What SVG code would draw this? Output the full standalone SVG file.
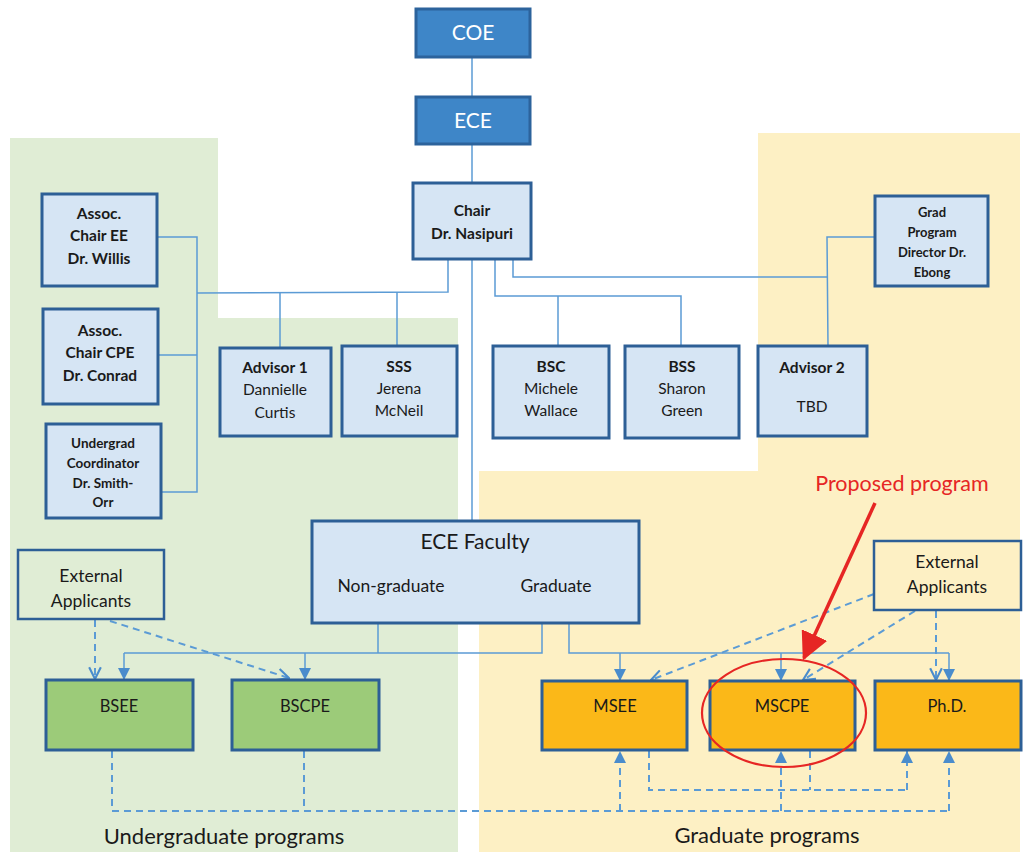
<svg xmlns="http://www.w3.org/2000/svg" width="1026" height="852" viewBox="0 0 1026 852">
<style>
text{font-family:Lato,"Open Sans","Liberation Sans",sans-serif;fill:#1a1a1a;text-anchor:middle}
.b{font-weight:bold}
.hdr{fill:#3e86c8;stroke:#2c639c;stroke-width:3}
.lb{fill:#d6e5f4;stroke:#2d5f96;stroke-width:3}
.gr{fill:#9ccb79;stroke:#2d5f96;stroke-width:3}
.og{fill:#fbb818;stroke:#2d5f96;stroke-width:3}
.ex{fill:none;stroke:#2d5f96;stroke-width:2.5}
.ln{fill:none;stroke:#5b9bd5;stroke-width:1.5}
.ds{fill:none;stroke:#5b9bd5;stroke-width:2;stroke-dasharray:7,5}
</style>
<defs>
<marker id="triB" viewBox="0 0 10 10" refX="10" refY="5" markerWidth="12" markerHeight="12" markerUnits="userSpaceOnUse" orient="auto">
<path d="M0,0 L10,5 L0,10 z" fill="#4a8ccc"/>
</marker>
<marker id="vee" viewBox="0 0 12 12" refX="11" refY="6" markerWidth="14" markerHeight="14" markerUnits="userSpaceOnUse" orient="auto">
<path d="M1,1 L11,6 L1,11" fill="none" stroke="#4a8ccc" stroke-width="1.8"/>
</marker>
<marker id="red" viewBox="0 0 10 10" refX="9" refY="5" markerWidth="28" markerHeight="28" markerUnits="userSpaceOnUse" orient="auto">
<path d="M0,0 L10,5 L0,10 z" fill="#e62624"/>
</marker>
</defs>

<!-- background regions -->
<polygon points="10,138 218,138 218,318 458,318 458,852 10,852" fill="#e0edd5"/>
<polygon points="758,133 1020,133 1020,852 479,852 479,471 758,471" fill="#fdf0c4"/>

<g id="connectors">
<line class="ln" x1="472" y1="57" x2="472" y2="97"/>
<line class="ln" x1="472" y1="144" x2="472" y2="183"/>
<line class="ln" x1="472" y1="259" x2="472" y2="521"/>
<polyline class="ln" points="448,259 448,292 197,293"/>
<polyline class="ln" points="157,237 197,237 197,492 161,492"/>
<line class="ln" x1="158" y1="355" x2="197" y2="355"/>
<line class="ln" x1="280" y1="292" x2="280" y2="348"/>
<line class="ln" x1="397" y1="292" x2="397" y2="346"/>
<polyline class="ln" points="495,259 495,296 681,296 681,346"/>
<line class="ln" x1="558" y1="296" x2="558" y2="346"/>
<polyline class="ln" points="513,259 513,277 828,277"/>
<polyline class="ln" points="875,237 827,237 828,346"/>
<polyline class="ln" points="378,623 378,653"/>
<polyline class="ln" points="542,623 542,653 124,653"/>
<line class="ln" x1="124" y1="653" x2="124" y2="680" marker-end="url(#triB)"/>
<line class="ln" x1="305" y1="653" x2="305" y2="680" marker-end="url(#triB)"/>
<polyline class="ln" points="569,623 569,653 949,653"/>
<line class="ln" x1="620" y1="653" x2="620" y2="681" marker-end="url(#triB)"/>
<line class="ln" x1="781" y1="653" x2="781" y2="681" marker-end="url(#triB)"/>
<line class="ln" x1="949" y1="653" x2="949" y2="681" marker-end="url(#triB)"/>
<!-- external applicants dashed -->
<line class="ds" x1="95" y1="620" x2="95" y2="679" marker-end="url(#vee)"/>
<line class="ds" x1="110" y1="621" x2="289" y2="678" marker-end="url(#vee)"/>
<line class="ds" x1="874" y1="594" x2="651" y2="680" marker-end="url(#vee)"/>
<line class="ds" x1="915" y1="611" x2="803" y2="680" marker-end="url(#vee)"/>
<line class="ds" x1="936" y1="611" x2="936" y2="680" marker-end="url(#vee)"/>
<!-- bottom dashed -->
<polyline class="ds" points="112,751 112,811 949,811"/>
<line class="ds" x1="304" y1="751" x2="304" y2="811"/>
<line class="ds" x1="620" y1="811" x2="620" y2="751" marker-end="url(#triB)"/>
<line class="ds" x1="781" y1="811" x2="781" y2="751" marker-end="url(#triB)"/>
<line class="ds" x1="949" y1="811" x2="949" y2="751" marker-end="url(#triB)"/>
<polyline class="ds" points="649,751 649,790 907,790"/>
<line class="ds" x1="810" y1="751" x2="810" y2="790"/>
<line class="ds" x1="907" y1="790" x2="907" y2="751" marker-end="url(#triB)"/>
</g>

<g id="coe"><rect class="hdr" x="416" y="9" width="114" height="48"/><text x="473" y="40" font-size="21" style="fill:#fff">COE</text></g>
<g id="ece"><rect class="hdr" x="416" y="97" width="114" height="47"/><text x="473" y="128" font-size="21" style="fill:#fff">ECE</text></g>
<g id="chair"><rect class="lb" x="413" y="183" width="118" height="76"/>
<text class="b" x="472" y="216" font-size="15.5">Chair</text><text class="b" x="472" y="239" font-size="15.5">Dr. Nasipuri</text></g>

<g id="assoc-ee"><rect class="lb" x="42" y="194" width="115" height="92"/>
<text class="b" x="99" y="219" font-size="15.5">Assoc.</text><text class="b" x="99" y="241" font-size="15.5">Chair EE</text><text class="b" x="99" y="264" font-size="15.5">Dr. Willis</text></g>
<g id="assoc-cpe"><rect class="lb" x="43" y="309" width="115" height="95"/>
<text class="b" x="100" y="336" font-size="15.5">Assoc.</text><text class="b" x="100" y="358" font-size="15.5">Chair CPE</text><text class="b" x="100" y="381" font-size="15.5">Dr. Conrad</text></g>
<g id="undergrad"><rect class="lb" x="46" y="424" width="115" height="94"/>
<text class="b" x="103" y="448" font-size="13.5">Undergrad</text><text class="b" x="103" y="468" font-size="13.5">Coordinator</text><text class="b" x="103" y="488" font-size="13.5">Dr. Smith-</text><text class="b" x="103" y="507" font-size="13.5">Orr</text></g>

<g id="advisor1"><rect class="lb" x="220" y="348" width="111" height="88"/>
<text class="b" x="275" y="373" font-size="15.5">Advisor 1</text><text x="275" y="395" font-size="15.5">Dannielle</text><text x="275" y="418" font-size="15.5">Curtis</text></g>
<g id="sss"><rect class="lb" x="342" y="346" width="115" height="90"/>
<text class="b" x="399" y="372" font-size="15.5">SSS</text><text x="399" y="394" font-size="15.5">Jerena</text><text x="399" y="416" font-size="15.5">McNeil</text></g>
<g id="bsc"><rect class="lb" x="493" y="346" width="116" height="92"/>
<text class="b" x="551" y="372" font-size="15.5">BSC</text><text x="551" y="394" font-size="15.5">Michele</text><text x="551" y="416" font-size="15.5">Wallace</text></g>
<g id="bss"><rect class="lb" x="625" y="346" width="114" height="92"/>
<text class="b" x="682" y="372" font-size="15.5">BSS</text><text x="682" y="394" font-size="15.5">Sharon</text><text x="682" y="416" font-size="15.5">Green</text></g>
<g id="advisor2"><rect class="lb" x="758" y="346" width="109" height="90"/>
<text class="b" x="812" y="373" font-size="15.5">Advisor 2</text><text x="812" y="412" font-size="15.5">TBD</text></g>
<g id="grad-director"><rect class="lb" x="875" y="196" width="113" height="90"/>
<text class="b" x="932" y="217" font-size="13">Grad</text><text class="b" x="932" y="237" font-size="13">Program</text><text class="b" x="932" y="257" font-size="13">Director Dr.</text><text class="b" x="932" y="277" font-size="13">Ebong</text></g>

<g id="faculty"><rect class="lb" x="312" y="521" width="327" height="102"/>
<text x="475" y="549" font-size="21">ECE Faculty</text>
<text x="391" y="592" font-size="17.5">Non-graduate</text><text x="556" y="592" font-size="17.5">Graduate</text></g>

<g id="ext-left"><rect class="ex" x="18" y="550" width="146" height="69"/>
<text x="91" y="582" font-size="17.5">External</text><text x="91" y="607" font-size="17.5">Applicants</text></g>
<g id="ext-right"><rect class="ex" x="874" y="541" width="147" height="69"/>
<text x="947" y="568" font-size="17.5">External</text><text x="947" y="593" font-size="17.5">Applicants</text></g>

<g id="bsee"><rect class="gr" x="46" y="680" width="147" height="70"/><text x="119" y="712" font-size="16.5">BSEE</text></g>
<g id="bscpe"><rect class="gr" x="232" y="680" width="147" height="70"/><text x="305" y="712" font-size="16.5">BSCPE</text></g>
<g id="msee"><rect class="og" x="542" y="681" width="145" height="69"/><text x="615" y="712" font-size="16.5">MSEE</text></g>
<g id="mscpe"><rect class="og" x="710" y="681" width="145" height="69"/><text x="782" y="712" font-size="16.5">MSCPE</text></g>
<g id="phd"><rect class="og" x="875" y="681" width="146" height="69"/><text x="947" y="712" font-size="16.5">Ph.D.</text></g>

<g id="proposed">
<ellipse cx="784" cy="713" rx="82" ry="54" fill="none" stroke="#e62624" stroke-width="2.2"/>
<line x1="875" y1="503" x2="804" y2="658" stroke="#e62624" stroke-width="3.5" marker-end="url(#red)"/>
<text x="902" y="491" font-size="21.5" style="fill:#e62624">Proposed program</text>
</g>

<text x="224" y="844" font-size="22">Undergraduate programs</text>
<text x="767" y="843" font-size="22">Graduate programs</text>
</svg>
